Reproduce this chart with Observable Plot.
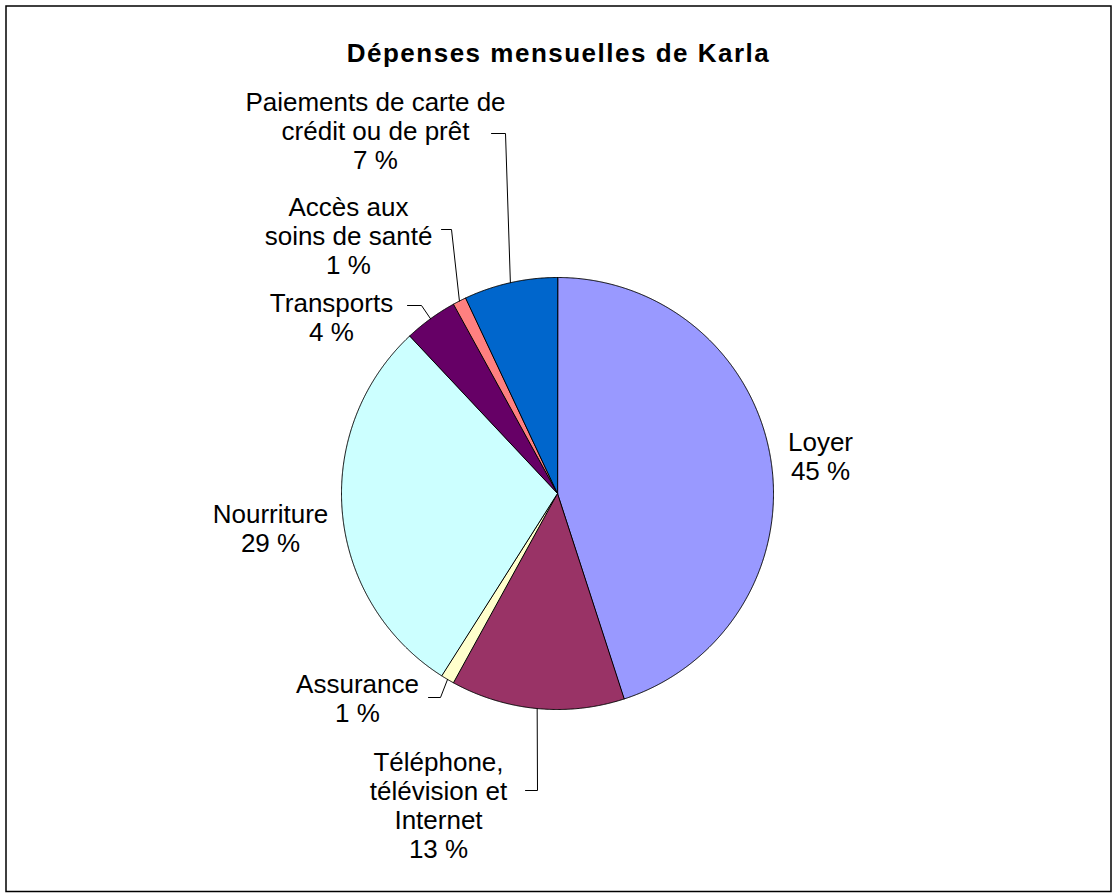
<!DOCTYPE html>
<html>
<head>
<meta charset="utf-8">
<script src="https://cdn.jsdelivr.net/npm/d3@7"></script>
<script src="https://cdn.jsdelivr.net/npm/@observablehq/plot@0.6"></script>
<style>
  body { margin: 0; background: #fff; }
</style>
</head>
<body>
<div id="chart"></div>
<script>
// données du graphique
const titre = 'Dépenses mensuelles de Karla';
const categories = ['Loyer', 'Téléphone, télévision et Internet', 'Assurance', 'Nourriture', 'Transports', 'Accès aux soins de santé', 'Paiements de carte de crédit ou de prêt'];
const etiquettes = ['Loyer', 'Téléphone,\ntélévision et\nInternet', 'Assurance', 'Nourriture', 'Transports', 'Accès aux\nsoins de santé', 'Paiements de carte de\ncrédit ou de prêt'];
const pourcentages = [45, 13, 1, 29, 4, 1, 7];

// style et mise en page (en pixels)
const couleurs = ['#9999FF', '#993366', '#FFFFCC', '#CCFFFF', '#660066', '#FF8080', '#0066CC'];
const W = 1116, H = 896, R = 216, CX = 557, CY = 493;
const posEtiquettes = [[820, 455.5], [438, 804.5], [357, 698], [270, 527.5], [331, 316.5], [348, 235], [375, 130]];
// segment horizontal des lignes de rappel (null = pas de ligne)
const rappels = [null, [[525, 790], [537, 790]], [[428, 697], [440, 697]], null, [[407, 305], [421, 305]], [[441, 229], [451, 229]], [[491, 133], [505, 133]]];

const toX = px => (px - CX) / R;
const toY = py => (CY - py) / R;

const arcs = d3.pie().sort(null)(pourcentages);

// polygones des secteurs
const secteurs = [];
arcs.forEach((a, i) => {
  secteurs.push({cat: categories[i], x: 0, y: 0});
  const n = Math.max(2, Math.ceil((a.endAngle - a.startAngle) / 0.004));
  for (let k = 0; k <= n; k++) {
    const t = a.startAngle + (a.endAngle - a.startAngle) * k / n;
    secteurs.push({cat: categories[i], x: Math.sin(t), y: Math.cos(t)});
  }
});

const labels = arcs.map((a, i) => ({
  text: `${etiquettes[i]}\n${pourcentages[i]} %`,
  x: toX(posEtiquettes[i][0]),
  y: toY(posEtiquettes[i][1])
}));

const lignes = [];
arcs.forEach((a, i) => {
  if (!rappels[i]) return;
  const mid = (a.startAngle + a.endAngle) / 2;
  for (const [px, py] of rappels[i]) lignes.push({cat: categories[i], x: toX(px), y: toY(py)});
  lignes.push({cat: categories[i], x: Math.sin(mid), y: Math.cos(mid)});
});

const chart = Plot.plot({
  width: W,
  height: H,
  margin: 0,
  style: {fontFamily: '"Liberation Sans", Arial, sans-serif', background: 'white'},
  x: {domain: [toX(0), toX(W)], range: [0, W], axis: null},
  y: {domain: [toY(H), toY(0)], range: [H, 0], axis: null},
  color: {domain: categories, range: couleurs, type: 'ordinal'},
  marks: [
    Plot.frame({stroke: 'black', strokeWidth: 1.5, insetLeft: 5.5, insetTop: 5.5, insetRight: 5.5, insetBottom: 5}),
    Plot.line(secteurs, {x: 'x', y: 'y', z: 'cat', fill: 'cat', stroke: 'black', strokeWidth: 1, curve: 'linear-closed', strokeLinejoin: 'miter'}),
    Plot.line(lignes, {x: 'x', y: 'y', z: 'cat', stroke: 'black', strokeWidth: 1}),
    Plot.text(labels, {x: 'x', y: 'y', text: 'text', fontSize: 26, lineHeight: 1.115, fill: 'black'}),
    Plot.text([titre], {frameAnchor: 'top', lineAnchor: 'middle', dy: 53, fontSize: 26, fontWeight: 'bold', fill: 'black'})
  ]
});

d3.select(chart).selectAll('g[font-weight="bold"] text').attr('letter-spacing', '1.5px');
d3.select('#chart').append(() => chart);
</script>
</body>
</html>
